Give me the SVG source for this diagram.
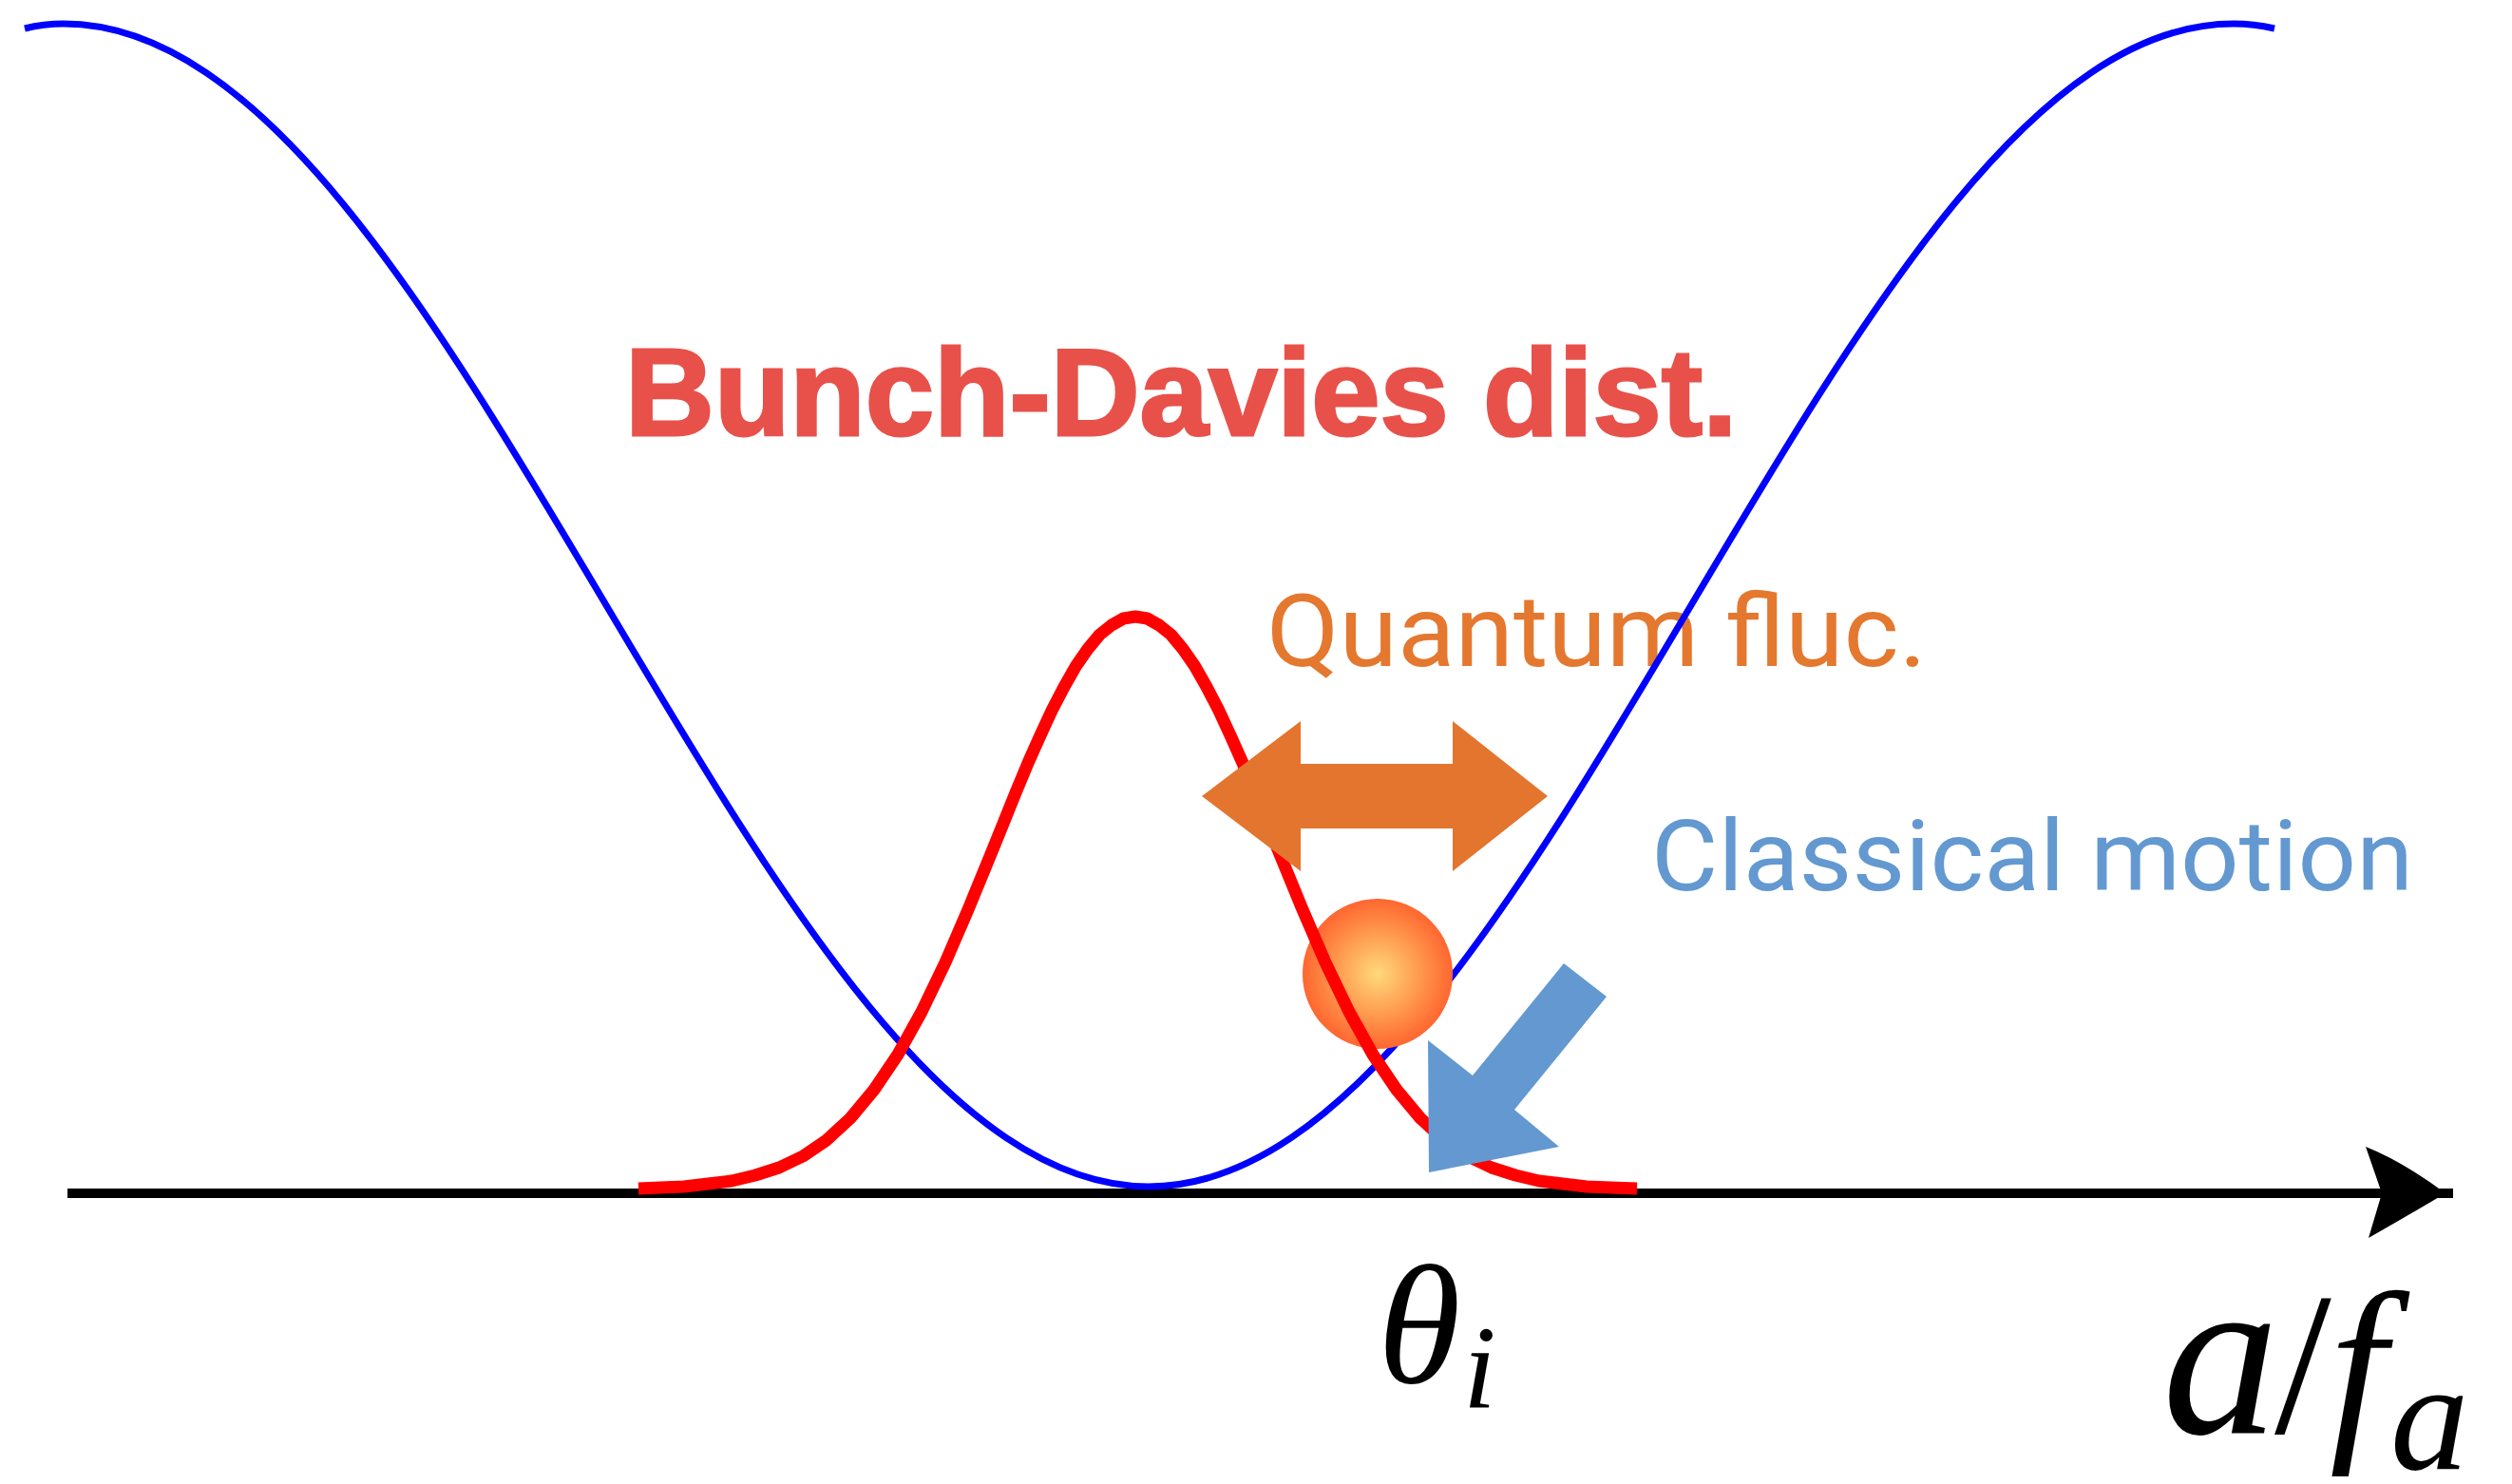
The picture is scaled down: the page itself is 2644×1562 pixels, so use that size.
<svg xmlns="http://www.w3.org/2000/svg" width="2644" height="1562" viewBox="0 0 2644 1562">
<defs>
<radialGradient id="ballGrad" cx="0.5" cy="0.5" r="0.5">
<stop offset="0" stop-color="#FFD97C"/>
<stop offset="0.55" stop-color="#FF9A4E"/>
<stop offset="1" stop-color="#FF6630"/>
</radialGradient>
<style>
.lbl{font-family:Roboto,"Liberation Sans",sans-serif;}
.math{font-family:"Liberation Serif","DejaVu Serif",serif;font-style:italic;fill:#000;}
.up{font-style:normal;}
</style>
</defs>
<rect width="2644" height="1562" fill="#fff"/>
<g id="connectors">
<g id="axis">
<line x1="71" y1="1256" x2="2582" y2="1256" stroke="#000" stroke-width="10"/>
<path d="M2574,1256 Q2528,1222 2490,1207 L2507,1256 L2493,1303 Q2530,1282 2574,1256 Z" fill="#000"/>
</g>
</g>
<g id="label-quantum">
<text class="lbl" x="1333" y="701" font-size="105" fill="#E4782F" textLength="695" lengthAdjust="spacingAndGlyphs">Quantum fluc.</text>
</g>
<g id="potential">
<path d="M26,30 Q46,25 67,25 C273.6,25 451.8,323.5 638,637 C824.2,950.5 1002.3,1249 1209,1249 C1415.7,1249 1593.8,950.5 1780,637 C1966.2,323.5 2144.4,25 2351,25 Q2372,25 2394,30" fill="none" stroke="#0000FF" stroke-width="7"/>
</g>
<g id="ball">
<circle cx="1450" cy="1025" r="79" fill="url(#ballGrad)"/>
</g>
<g id="distribution">
<polyline fill="none" stroke="#FF0000" stroke-width="13" stroke-linejoin="round" points="672,1251 695,1250 720,1249 745,1246 770,1243 795,1237 820,1229 845,1217 870,1200 895,1177 920,1147 945,1110 970,1065 995,1013 1020,955 1045,894 1070,832 1082.5,802 1095,774 1107.5,747 1120,723 1132.5,701 1145,683 1157.5,668 1170,658 1182.5,651 1195,649 1207.5,651 1220,658 1232.5,668 1245,683 1257.5,701 1270,723 1282.5,747 1295,774 1307.5,802 1320,832 1345,894 1370,955 1395,1013 1420,1065 1445,1110 1470,1147 1495,1177 1520,1200 1545,1217 1570,1229 1595,1237 1620,1243 1645,1246 1670,1249 1695,1250 1723,1251"/>
</g>
<g id="quantum-arrow">
<polygon points="1265,838 1369,759 1369,804 1529,804 1529,759 1629,838 1529,917 1529,872 1369,872 1369,917" fill="#E4752E"/>
</g>
<g id="classical-arrow">
<polygon points="1646,1014 1691,1049 1594,1168 1641,1207 1504,1234 1503,1095 1550,1132" fill="#6399D0"/>
</g>
<g id="label-bd">
<text x="658" y="458" font-family="'Liberation Sans',Arial,sans-serif" font-weight="bold" font-size="130" fill="#E8514A" stroke="#E8514A" stroke-width="3">Bunch-Davies dist.</text>
</g>
<g id="label-classical">
<text class="lbl" x="1738" y="937" font-size="104" fill="#6399D0" textLength="802" lengthAdjust="spacingAndGlyphs">Classical motion</text>
</g>
<g id="label-theta">
<text class="math" x="1450" y="1455" font-size="178">θ<tspan x="1540" y="1482" font-size="125">i</tspan></text>
</g>
<g id="label-xaxis">
<text class="math" x="2276" y="1508" font-size="215"><tspan font-size="245">a</tspan><tspan class="up" x="2394" y="1508">/</tspan><tspan x="2452" y="1508">f</tspan><tspan x="2516" y="1546" font-size="165">a</tspan></text>
</g>
</svg>
